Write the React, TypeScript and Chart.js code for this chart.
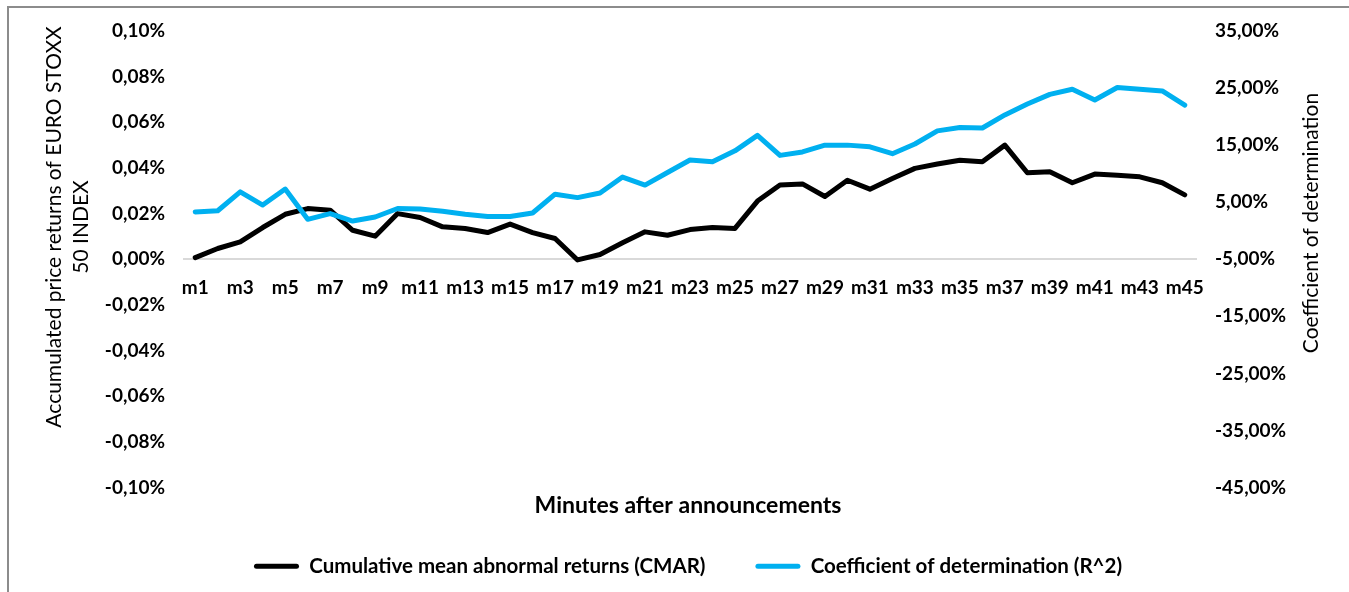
import React, { useEffect, useRef } from 'react';
import { Chart, registerables } from 'chart.js';

Chart.register(...registerables);

const minuteLabels = [
  'm1', 'm2', 'm3', 'm4', 'm5', 'm6', 'm7', 'm8', 'm9', 'm10',
  'm11', 'm12', 'm13', 'm14', 'm15', 'm16', 'm17', 'm18', 'm19', 'm20',
  'm21', 'm22', 'm23', 'm24', 'm25', 'm26', 'm27', 'm28', 'm29', 'm30',
  'm31', 'm32', 'm33', 'm34', 'm35', 'm36', 'm37', 'm38', 'm39', 'm40',
  'm41', 'm42', 'm43', 'm44', 'm45',
];

// Cumulative mean abnormal returns, in percent (left axis)
const cmarValues = [
  0.0007, 0.0047, 0.0076, 0.0139, 0.0197, 0.0222, 0.0215, 0.0127, 0.0101, 0.0200,
  0.0183, 0.0142, 0.0135, 0.0117, 0.0154, 0.0117, 0.0091, -0.0003, 0.0021, 0.0072,
  0.0120, 0.0105, 0.0130, 0.0139, 0.0135, 0.0255, 0.0325, 0.0330, 0.0275, 0.0346,
  0.0307, 0.0354, 0.0398, 0.0417, 0.0434, 0.0427, 0.0500, 0.0379, 0.0383, 0.0335,
  0.0373, 0.0368, 0.0361, 0.0335, 0.0282,
];

// Coefficient of determination, in percent (right axis)
const r2Values = [
  3.3, 3.5, 6.8, 4.5, 7.3, 2.0, 3.0, 1.7, 2.4, 3.9,
  3.8, 3.4, 2.9, 2.5, 2.5, 3.1, 6.4, 5.8, 6.6, 9.4,
  8.0, 10.2, 12.4, 12.1, 14.0, 16.7, 13.2, 13.8, 15.0, 15.0,
  14.7, 13.5, 15.2, 17.5, 18.1, 18.0, 20.3, 22.2, 23.9, 24.8,
  22.9, 25.1, 24.8, 24.5, 22.0,
];

const seriesNames = ['Cumulative mean abnormal returns (CMAR)', 'Coefficient of determination (R^2)'];
const seriesColors = ['#000000', '#00B0F0'];

const leftAxisRange = [-0.1, 0.1, 0.02];
const rightAxisRange = [-45, 35, 10];

const leftTitleLines = ['Accumulated price returns of EURO STOXX', '50 INDEX'];
const rightTitle = 'Coefficient of determination';
const xTitle = 'Minutes after announcements';

const fmt = (v: number, d: number) => {
  const x = Math.abs(v) < 1e-9 ? 0 : v;
  return x.toFixed(d).replace('.', ',') + '%';
};

const axisTitlePlugin = {
  id: 'axisTitles',
  afterDraw(chart: any) {
    const ctx = chart.ctx as CanvasRenderingContext2D;
    ctx.save();
    ctx.fillStyle = '#000';
    ctx.font = '21px Lato';
    ctx.textAlign = 'center';
    ctx.textBaseline = 'middle';
    ctx.translate(54, 227);
    ctx.rotate(-Math.PI / 2);
    ctx.fillText(leftTitleLines[0], 0, 0);
    ctx.fillText(leftTitleLines[1], 0, 27);
    ctx.restore();

    ctx.save();
    ctx.fillStyle = '#000';
    ctx.font = '21px Lato';
    ctx.textAlign = 'center';
    ctx.textBaseline = 'middle';
    ctx.translate(1311, 223);
    ctx.rotate(-Math.PI / 2);
    ctx.fillText(rightTitle, 0, 0);
    ctx.restore();
  },
};

export default function App() {
  const ref = useRef<HTMLCanvasElement>(null);

  useEffect(() => {
    Chart.defaults.font.family = 'Lato';
    const chart = new Chart(ref.current as HTMLCanvasElement, {
      type: 'line',
      data: {
        labels: minuteLabels,
        datasets: [
          {
            label: seriesNames[0],
            data: cmarValues,
            yAxisID: 'y',
            borderColor: seriesColors[0],
            backgroundColor: seriesColors[0],
            borderWidth: 5,
            pointRadius: 0,
            tension: 0,
            fill: false,
            borderJoinStyle: 'round',
            borderCapStyle: 'round',
            order: 2,
          },
          {
            label: seriesNames[1],
            data: r2Values,
            yAxisID: 'y1',
            borderColor: seriesColors[1],
            backgroundColor: seriesColors[1],
            borderWidth: 5,
            pointRadius: 0,
            tension: 0,
            fill: false,
            borderJoinStyle: 'round',
            borderCapStyle: 'round',
            order: 1,
          },
        ],
      },
      options: {
        responsive: true,
        maintainAspectRatio: false,
        animation: false,
        layout: { padding: { left: 27, right: 0, top: 31, bottom: 5.5 } },
        scales: {
          x: {
            type: 'category',
            position: { y: 0 } as any,
            offset: true,
            grid: { display: false, drawTicks: false },
            border: { display: true, color: '#d9d9d9', width: 2 },
            ticks: {
              autoSkip: false,
              maxRotation: 0,
              minRotation: 0,
              padding: 17,
              color: '#000',
              font: { size: 19, weight: 'bold' },
              callback: (_v: any, i: number) => (i % 2 === 0 ? minuteLabels[i] : ''),
            },
            afterFit: (s: any) => {
              s.height = 0;
            },
          },
          y: {
            position: 'left',
            min: leftAxisRange[0],
            max: leftAxisRange[1],
            grid: { display: false, drawTicks: false },
            border: { display: false },
            ticks: {
              stepSize: leftAxisRange[2],
              padding: 19,
              color: '#000',
              font: { size: 19, weight: 'bold' },
              callback: (v: any) => fmt(Number(v), 2),
            },
            afterFit: (s: any) => {
              s.width = 157;
            },
          },
          y1: {
            position: 'right',
            min: rightAxisRange[0],
            max: rightAxisRange[1],
            grid: { display: false, drawTicks: false },
            border: { display: false },
            ticks: {
              stepSize: rightAxisRange[2],
              padding: 19,
              color: '#000',
              font: { size: 19, weight: 'bold' },
              callback: (v: any) => fmt(Number(v), 2),
            },
            afterFit: (s: any) => {
              s.width = 153;
            },
          },
        },
        plugins: {
          tooltip: { enabled: false },
          legend: {
            position: 'bottom',
            fullSize: true,
            title: {
              display: true,
              text: xTitle,
              position: 'center',
              color: '#000',
              font: { size: 23, weight: 'bold' },
              padding: { top: 6.5, bottom: -15.6 } as any,
            },
            labels: {
              boxWidth: 45,
              boxHeight: 5,
              padding: 50,
              color: '#000',
              font: { size: 20.5, weight: 'bold' },
              useBorderRadius: true,
              borderRadius: 2.5,
              sort: (a: any, b: any) => a.datasetIndex - b.datasetIndex,
              generateLabels: (c: any) =>
                (Chart.defaults.plugins.legend.labels.generateLabels as any)(c).map((it: any) => ({
                  ...it,
                  lineWidth: 0,
                  fillStyle: seriesColors[it.datasetIndex],
                })),
            },
          },
        },
      },
      plugins: [axisTitlePlugin],
    } as any);
    return () => chart.destroy();
  }, []);

  return (
    <div
      style={{
        position: 'fixed',
        left: 0,
        top: 0,
        width: 1349,
        height: 592,
        background: '#fff',
        overflow: 'hidden',
      }}
    >
      <canvas ref={ref} style={{ display: 'block' }} />
      <div
        style={{
          position: 'absolute',
          left: 7,
          top: 6,
          width: 1400,
          height: 700,
          border: '2px solid #8c8c8c',
          pointerEvents: 'none',
        }}
      />
    </div>
  );
}
